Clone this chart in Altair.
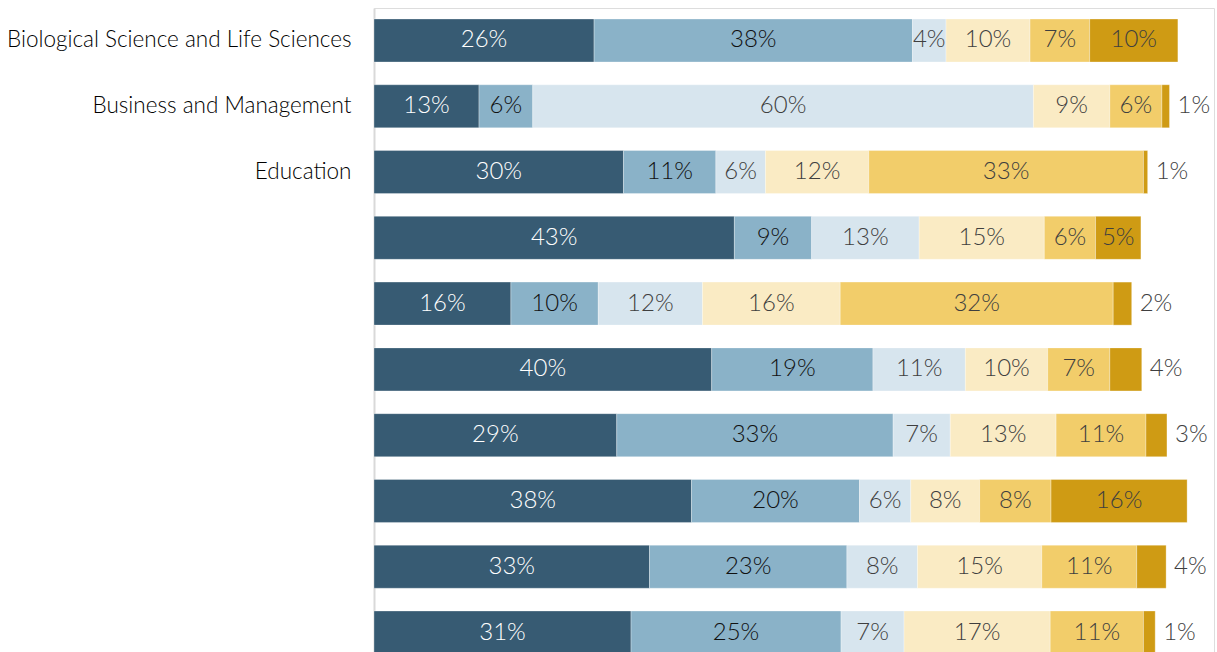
import altair as alt
import pandas as pd

# Row labels (only the first three are printed in the reference)
categories = [
    "Biological Science and Life Sciences",
    "Business and Management",
    "Education",
    "", "", "", "", "", "", "",
]

# Segment widths (percent)
row_values = [
    [26.2, 37.9, 4.0, 10.0, 7.1, 10.5],
    [12.5, 6.4, 59.6, 9.1, 6.2, 0.9],
    [29.7, 11.0, 5.9, 12.3, 32.7, 0.5],
    [42.9, 9.2, 12.8, 14.9, 6.1, 5.4],
    [16.3, 10.4, 12.4, 16.4, 32.5, 2.2],
    [40.2, 19.2, 11.0, 9.8, 7.4, 3.8],
    [28.9, 32.9, 6.8, 12.6, 10.7, 2.5],
    [37.8, 20.0, 6.1, 8.2, 8.5, 16.2],
    [32.8, 23.5, 8.4, 14.8, 11.3, 3.5],
    [30.6, 25.0, 7.5, 17.4, 11.1, 1.4],
]

# Printed labels (percent)
row_labels = [
    [26, 38, 4, 10, 7, 10],
    [13, 6, 60, 9, 6, 1],
    [30, 11, 6, 12, 33, 1],
    [43, 9, 13, 15, 6, 5],
    [16, 10, 12, 16, 32, 2],
    [40, 19, 11, 10, 7, 4],
    [29, 33, 7, 13, 11, 3],
    [38, 20, 6, 8, 8, 16],
    [33, 23, 8, 15, 11, 4],
    [31, 25, 7, 17, 11, 1],
]

segments = ["S1", "S2", "S3", "S4", "S5", "S6"]
seg_colors = ["#375B73", "#8AB2C8", "#D7E5EE", "#FAEBC4", "#F2CD6A", "#CF9B14"]
text_colors = ["#FFFFFF", "#111111", "#3F3F3F", "#3F3F3F", "#3F3F3F", "#3F3F3F"]

records = []
for r, (vals, labs) in enumerate(zip(row_values, row_labels)):
    start = 0.0
    for s, (v, lab) in enumerate(zip(vals, labs)):
        end = start + v
        outside = (s == len(vals) - 1) and v < 5
        records.append({
            "row": r,
            "seg": segments[s],
            "start": start,
            "end": end,
            "mid": (start + end) / 2,
            "label": f"{lab}%",
            "tcolor": "#3F3F3F" if outside else text_colors[s],
            "outside": outside,
        })
        start = end
df = pd.DataFrame(records)

label_expr = "[" + ",".join('"' + c + '"' for c in categories) + "][datum.value]"

y_enc = alt.Y(
    "row:O",
    scale=alt.Scale(domain=list(range(len(categories))), range=[0, 657],
                    paddingInner=0.346, paddingOuter=0.167),
    axis=alt.Axis(
        title=None, labelExpr=label_expr, ticks=False, tickSize=0,
        labelPadding=23, labelFont="Lato", labelFontSize=22.5, labelFontWeight=300,
        labelColor="#000000", domainColor="#D9D9D9", domainWidth=2,
        labelLimit=400,
    ),
)

x_scale = alt.Scale(domain=[0, 100], nice=False, zero=True)

base = alt.Chart(df)

bars = base.mark_bar(stroke="#FFFFFF", strokeWidth=0.5, strokeOpacity=0.6).encode(
    y=y_enc,
    x=alt.X("start:Q", scale=x_scale, axis=None),
    x2="end:Q",
    color=alt.Color("seg:N", scale=alt.Scale(domain=segments, range=seg_colors), legend=None),
)

inside = base.transform_filter("!datum.outside").mark_text(
    font="Lato", fontSize=24, fontWeight=300, align="center", baseline="middle"
).encode(
    y=y_enc,
    x=alt.X("mid:Q", scale=x_scale, axis=None),
    text="label:N",
    color=alt.Color("tcolor:N", scale=None),
)

outside = base.transform_filter("datum.outside").mark_text(
    font="Lato", fontSize=24, fontWeight=300, align="left", baseline="middle", dx=8
).encode(
    y=y_enc,
    x=alt.X("end:Q", scale=x_scale, axis=None),
    text="label:N",
    color=alt.Color("tcolor:N", scale=None),
)

chart = alt.layer(bars, inside, outside).properties(
    width=840,
    height=644,
    padding={"left": 374, "top": 8, "right": 3, "bottom": 0},
    autosize=alt.AutoSizeParams(type="none"),
).configure_view(stroke=None).configure(background="#FFFFFF")

chart.save("out.html", embed_options={"renderer": "svg", "actions": False})
